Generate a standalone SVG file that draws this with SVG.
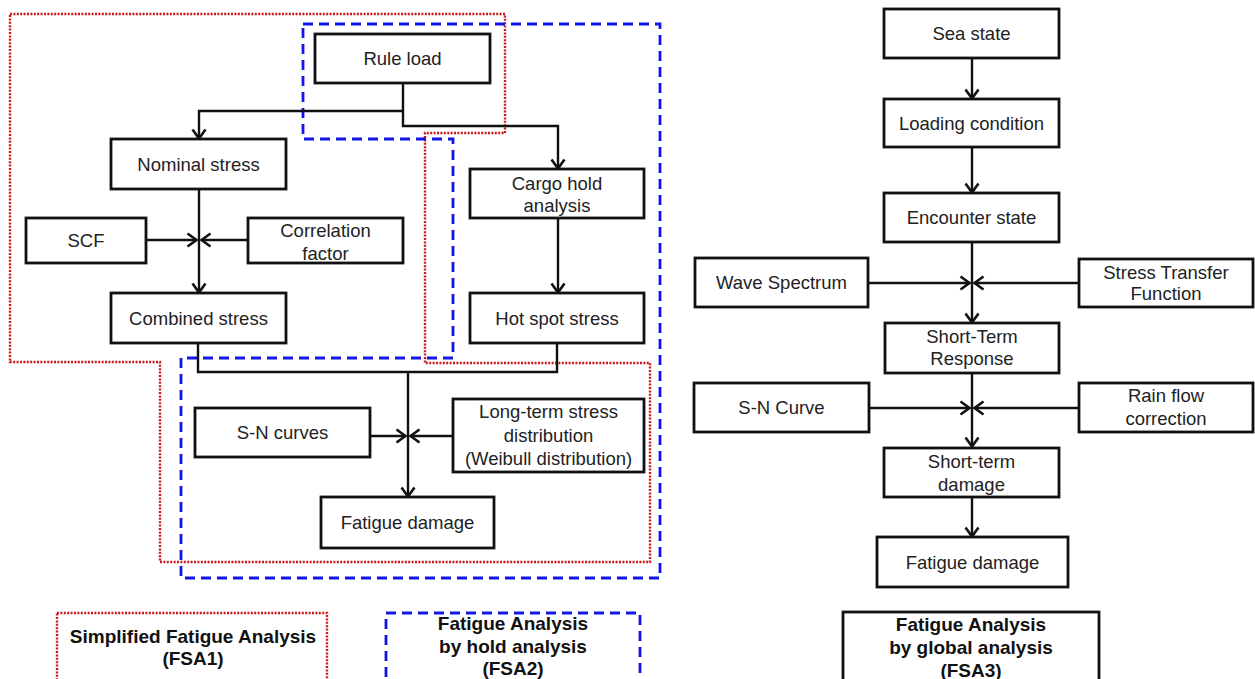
<svg xmlns="http://www.w3.org/2000/svg" width="1255" height="679" viewBox="0 0 1255 679">
<style>
.box{fill:#fff;stroke:#111;stroke-width:2.8}
.t{font-family:"Liberation Sans",Arial,sans-serif;font-size:18.5px;fill:#222;text-anchor:middle}
.b{font-weight:bold;fill:#111;font-size:19px}
.conn{stroke:#111;stroke-width:2.4;fill:none}
.arr{marker-end:url(#ah)}
.red{fill:none;stroke:#cc1a1a;stroke-width:2.4;stroke-dasharray:2 1.4}
.blue{fill:none;stroke:#1414e6;stroke-width:2.8;stroke-dasharray:10 6}
</style>
<defs>
<marker id="ah" viewBox="0 0 12 16" refX="11" refY="8" markerWidth="12" markerHeight="16" markerUnits="userSpaceOnUse" orient="auto">
<path d="M1.5,1.5 L10.5,8 L1.5,14.5" fill="none" stroke="#111" stroke-width="2.6"/>
</marker>
</defs>
<rect width="1255" height="679" fill="#fff"/>

<g id="regions">
<polygon class="red" points="10,14 505,14 505,133 425,133 425,363 650,363 650,562 160,562 160,362 10,362"/>
<polygon class="blue" points="303,24 660,24 660,578 181,578 181,358 453,358 453,139 303,139"/>
</g>

<g id="connectors">
<path class="conn arr" d="M403,83 V126 H558 V169"/>
<path class="conn arr" d="M403,111 H199 V139"/>
<path class="conn arr" d="M199,189 V293"/>
<path class="conn arr" d="M146,240 H197"/>
<path class="conn arr" d="M248,240 H201"/>
<path class="conn arr" d="M558,218 V293"/>
<path class="conn" d="M198,343 V372 H557 V343"/>
<path class="conn arr" d="M408,372 V497"/>
<path class="conn arr" d="M370,436 H406"/>
<path class="conn arr" d="M453,436 H410"/>
<path class="conn arr" d="M972,58 V99"/>
<path class="conn arr" d="M972,147 V193"/>
<path class="conn arr" d="M972,242 V323"/>
<path class="conn arr" d="M868,283 H970"/>
<path class="conn arr" d="M1079,283 H974"/>
<path class="conn arr" d="M972,373 V447"/>
<path class="conn arr" d="M869,408 H970"/>
<path class="conn arr" d="M1079,408 H974"/>
<path class="conn arr" d="M972,497 V537"/>
</g>

<g id="rule-load"><rect class="box" x="315" y="34" width="175" height="49"/><text class="t" x="402.5" y="65">Rule load</text></g>
<g id="nominal-stress"><rect class="box" x="111" y="139" width="175" height="50"/><text class="t" x="198.5" y="170.5">Nominal stress</text></g>
<g id="scf"><rect class="box" x="26" y="218" width="120" height="45"/><text class="t" x="86" y="247">SCF</text></g>
<g id="correlation-factor"><rect class="box" x="248" y="218" width="155" height="45"/><text class="t" x="325.5" y="237">Correlation</text><text class="t" x="325.5" y="260">factor</text></g>
<g id="combined-stress"><rect class="box" x="111" y="293" width="175" height="50"/><text class="t" x="198.5" y="324.5">Combined stress</text></g>
<g id="cargo-hold"><rect class="box" x="470" y="169" width="174" height="49"/><text class="t" x="557" y="190">Cargo hold</text><text class="t" x="557" y="212">analysis</text></g>
<g id="hot-spot-stress"><rect class="box" x="470" y="293" width="174" height="50"/><text class="t" x="557" y="324.5">Hot spot stress</text></g>
<g id="sn-curves"><rect class="box" x="195" y="408" width="175" height="49"/><text class="t" x="282.5" y="439">S-N curves</text></g>
<g id="long-term"><rect class="box" x="453" y="399" width="191" height="73"/><text class="t" x="548.5" y="418">Long-term stress</text><text class="t" x="548.5" y="442">distribution</text><text class="t" x="548.5" y="465">(Weibull distribution)</text></g>
<g id="fatigue-damage-1"><rect class="box" x="321" y="497" width="173" height="51"/><text class="t" x="407.5" y="529">Fatigue damage</text></g>

<g id="sea-state"><rect class="box" x="884" y="9" width="175" height="49"/><text class="t" x="971.5" y="40">Sea state</text></g>
<g id="loading-condition"><rect class="box" x="884" y="99" width="175" height="48"/><text class="t" x="971.5" y="129.5">Loading condition</text></g>
<g id="encounter-state"><rect class="box" x="884" y="193" width="175" height="49"/><text class="t" x="971.5" y="224">Encounter state</text></g>
<g id="wave-spectrum"><rect class="box" x="695" y="258" width="173" height="49"/><text class="t" x="781.5" y="289">Wave Spectrum</text></g>
<g id="stress-transfer"><rect class="box" x="1079" y="259" width="174" height="48"/><text class="t" x="1166" y="279">Stress Transfer</text><text class="t" x="1166" y="300">Function</text></g>
<g id="short-term-response"><rect class="box" x="885" y="323" width="174" height="50"/><text class="t" x="972" y="343">Short-Term</text><text class="t" x="972" y="365">Response</text></g>
<g id="sn-curve"><rect class="box" x="694" y="383" width="175" height="49"/><text class="t" x="781.5" y="414">S-N Curve</text></g>
<g id="rain-flow"><rect class="box" x="1079" y="383" width="174" height="49"/><text class="t" x="1166" y="402">Rain flow</text><text class="t" x="1166" y="425">correction</text></g>
<g id="short-term-damage"><rect class="box" x="884" y="448" width="175" height="49"/><text class="t" x="971.5" y="468">Short-term</text><text class="t" x="971.5" y="491">damage</text></g>
<g id="fatigue-damage-2"><rect class="box" x="877" y="537" width="191" height="50"/><text class="t" x="972.5" y="568.5">Fatigue damage</text></g>

<g id="legend-fsa1"><rect class="red" x="57" y="613" width="270" height="90"/><text class="t b" x="193" y="643">Simplified Fatigue Analysis</text><text class="t b" x="193" y="665">(FSA1)</text></g>
<g id="legend-fsa2"><rect class="blue" x="386" y="613" width="254" height="90"/><text class="t b" x="513" y="630">Fatigue Analysis</text><text class="t b" x="513" y="653">by hold analysis</text><text class="t b" x="513" y="675">(FSA2)</text></g>
<g id="legend-fsa3"><rect class="box" x="843" y="612" width="256" height="90"/><text class="t b" x="971" y="631">Fatigue Analysis</text><text class="t b" x="971" y="654">by global analysis</text><text class="t b" x="971" y="677">(FSA3)</text></g>
</svg>
